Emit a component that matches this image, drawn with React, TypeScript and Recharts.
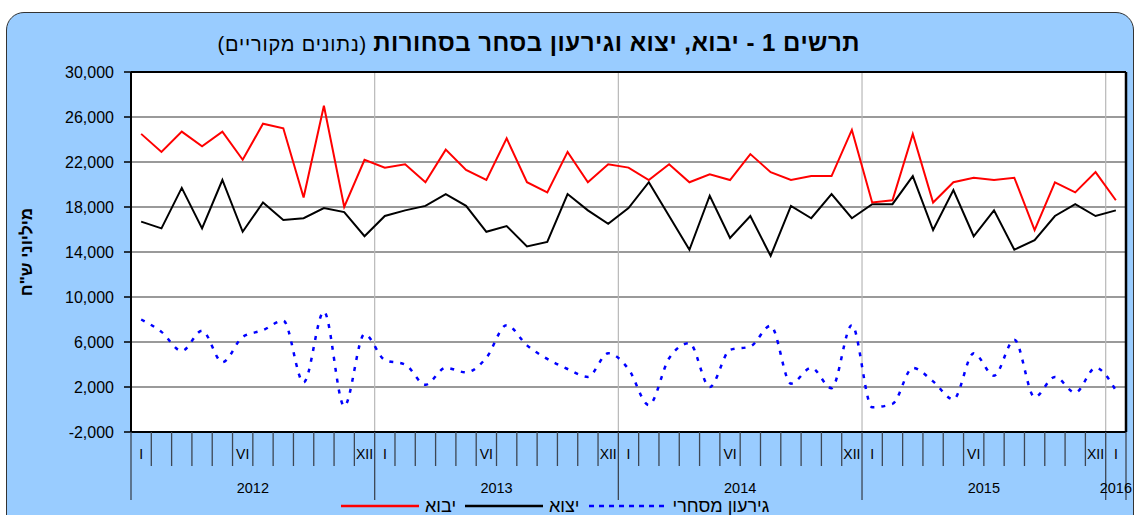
import React from 'react';
import {
    LineChart,
    Line,
    XAxis,
    YAxis,
    CartesianGrid,
    ReferenceLine,
    Legend
} from 'recharts';

// months per year shown on the axis (2016 only has January)
const years = ['2012', '2013', '2014', '2015', '2016'];
const monthsInYear = [12, 12, 12, 12, 1];
const romanMarks: Record<number, string> = { 1: 'I', 6: 'VI', 12: 'XII' };

const yTicks = [-2000, 2000, 6000, 10000, 14000, 18000, 22000, 26000, 30000];

// יבוא - imports (NIS millions)
const imports = [
    24500, 22900, 24700, 23400, 24700, 22200, 25400, 25000, 18850, 27000, 18000, 22200,
    21500, 21800, 20200, 23100, 21300, 20400, 24100, 20200, 19300, 22900, 20200, 21800,
    21500, 20400, 21800, 20200, 20900, 20400, 22700, 21100, 20400, 20750, 20750, 24850,
    18400, 18600, 24500, 18400, 20200, 20600, 20400, 20600, 15950, 20200, 19300, 21100,
    18600
];

// יצוא - exports
const exportsSeries = [
    16700, 16100, 19700, 16100, 20400, 15800, 18400, 16850, 17000, 17900, 17550, 15400,
    17200, 17700, 18100, 19150, 18100, 15800, 16300, 14500, 14900, 19150, 17700, 16500,
    17900, 20200, 17200, 14200, 19000, 15250, 17200, 13650, 18100, 17000, 19150, 17000,
    18250, 18250, 20750, 15950, 19500, 15400, 17700, 14200, 15050, 17200, 18250, 17200,
    17700
];

// גירעון מסחרי - trade deficit
const deficit = [
    8000, 6900, 5200, 7000, 4200, 6450, 7050, 7900, 2400, 8700, 300, 6700,
    4400, 4000, 2200, 3700, 3300, 4600, 7500, 5700, 4500, 3600, 2900, 5000,
    3600, 400, 4550, 5900, 2000, 5300, 5600, 7450, 2300, 3700, 1900, 7500,
    200, 500, 3700, 2500, 900, 5000, 3000, 6200, 1100, 2900, 1500, 3700,
    1700
];

const categories: string[] = [];
years.forEach((yr, yi) => {
    for (let m = 1; m <= monthsInYear[yi]; m++) categories.push(`${yr}-${m}`);
});

const data = categories.map((c, i) => ({
    month: c,
    imports: imports[i],
    exports: exportsSeries[i],
    deficit: deficit[i],
}));

const W = 1134;
const H = 515;
const margin = { top: 72, right: 8, bottom: 13, left: 71 };
const Y_AXIS_W = 60;
const X_AXIS_H = 70;
const plotW = W - margin.left - margin.right - Y_AXIS_W;
const BAND = plotW / categories.length;

const FONT = 'Arial, "Liberation Sans", sans-serif';
const AXIS_DARK = '#3c4654';

function MonthTick(props: any) {
    const { x, y, payload } = props;
    const idx = categories.indexOf(payload.value);
    const [yr, mStr] = String(payload.value).split('-');
    const m = Number(mStr);
    const half = BAND / 2;
    const isLast = idx === categories.length - 1;
    const mark = romanMarks[m];
    return (
        <g>
            <line
                x1={x - half}
                x2={x - half}
                y1={y}
                y2={m === 1 ? y + 68 : y + 34}
                stroke={AXIS_DARK}
                strokeWidth={1.3}
            />
            {isLast && (
                <line x1={x + half} x2={x + half} y1={y} y2={y + 68} stroke={AXIS_DARK} strokeWidth={1.3} />
            )}
            {mark && (
                <text x={x} y={y + 27} textAnchor="middle" fontSize={14} fontFamily={FONT} fill="#000">
                    {mark}
                </text>
            )}
            {(m === 6 || (yr === '2016' && m === 1)) && (
                <text
                    x={m === 6 ? x + half : x}
                    y={y + 61}
                    textAnchor="middle"
                    fontSize={14.5}
                    fontFamily={FONT}
                    fill="#000"
                >
                    {yr}
                </text>
            )}
        </g>
    );
}

const legendItems = [
    { label: 'יבוא', color: '#ff0000', dash: undefined },
    { label: 'יצוא', color: '#000000', dash: undefined },
    { label: 'גירעון מסחרי', color: '#0000ff', dash: '5 5' },
];

function LegendContent() {
    return (
        <div style={{ display: 'flex', alignItems: 'center', fontFamily: FONT, fontSize: 18, color: '#000' }}>
            {legendItems.map((it) => (
                <div key={it.label} style={{ display: 'flex', alignItems: 'center', marginRight: 8 }}>
                    <svg width={80} height={10}>
                        <line
                            x1={1}
                            x2={79}
                            y1={5}
                            y2={5}
                            stroke={it.color}
                            strokeWidth={2.5}
                            strokeDasharray={it.dash}
                        />
                    </svg>
                    <span style={{ marginLeft: 5, direction: 'rtl', lineHeight: '20px' }}>{it.label}</span>
                </div>
            ))}
        </div>
    );
}

export default function App() {
    return (
        <div style={{ position: 'fixed', left: 0, top: 0, width: W, height: H, overflow: 'hidden', background: '#fff' }}>
            <div
                style={{
                    position: 'absolute',
                    left: 6,
                    top: 12,
                    width: 1126,
                    height: 540,
                    background: '#99ccff',
                    border: '1.5px solid #333',
                    borderRadius: 18,
                }}
            />
            <div
                style={{
                    position: 'absolute',
                    right: 274,
                    top: 29,
                    direction: 'rtl',
                    fontFamily: FONT,
                    whiteSpace: 'nowrap',
                    lineHeight: '28px',
                    color: '#000',
                }}
            >
                <span style={{ fontWeight: 'bold', fontSize: 24, letterSpacing: 0.5 }}>
                    תרשים 1 - יבוא, יצוא וגירעון בסחר בסחורות
                </span>
                <span style={{ fontSize: 20, letterSpacing: 0.8 }}> (נתונים מקוריים)</span>
            </div>
            <div
                style={{
                    position: 'absolute',
                    left: 27,
                    top: 252,
                    transform: 'translate(-50%, -50%) rotate(-90deg)',
                    fontFamily: FONT,
                    fontWeight: 'bold',
                    fontSize: 17,
                    whiteSpace: 'nowrap',
                    direction: 'rtl',
                    color: '#000',
                }}
            >
                מיליוני ש"ח
            </div>
            <div style={{ position: 'absolute', left: 0, top: 0 }}>
                <LineChart width={W} height={H} data={data} margin={margin}>
                    <CartesianGrid vertical={false} stroke="#9a9a9a" strokeWidth={2} fill="#ffffff" />
                    <XAxis
                        dataKey="month"
                        scale="band"
                        interval={0}
                        height={X_AXIS_H}
                        tickSize={0}
                        tickMargin={0}
                        tickLine={false}
                        axisLine={{ stroke: '#000', strokeWidth: 2 }}
                        tick={<MonthTick />}
                    />
                    <YAxis
                        width={Y_AXIS_W}
                        domain={[-2000, 30000]}
                        ticks={yTicks}
                        interval={0}
                        tickSize={7}
                        tickMargin={10}
                        axisLine={{ stroke: '#000', strokeWidth: 2 }}
                        tickLine={{ stroke: '#000', strokeWidth: 1.5 }}
                        tick={{ fontSize: 16, fill: '#000', fontFamily: FONT }}
                        tickFormatter={(v: number) => v.toLocaleString('en-US')}
                    />
                    {['2013-1', '2014-1', '2015-1', '2016-1'].map((c) => (
                        <ReferenceLine key={c} x={c} position="start" stroke="#b8b8b8" strokeWidth={1.2} />
                    ))}
                    <ReferenceLine y={30000} stroke="#000" strokeWidth={2} />
                    <ReferenceLine x={categories[categories.length - 1]} position="end" stroke="#000" strokeWidth={2.5} />
                    <Line
                        type="monotone"
                        dataKey="deficit"
                        stroke="#0000ff"
                        strokeWidth={2.5}
                        strokeDasharray="4 7"
                        dot={false}
                        isAnimationActive={false}
                    />
                    <Line
                        type="linear"
                        dataKey="exports"
                        stroke="#000000"
                        strokeWidth={2}
                        dot={false}
                        isAnimationActive={false}
                    />
                    <Line
                        type="linear"
                        dataKey="imports"
                        stroke="#ff0000"
                        strokeWidth={2}
                        dot={false}
                        isAnimationActive={false}
                    />
                    <Legend
                        verticalAlign="middle"
                        align="center"
                        content={<LegendContent />}
                        wrapperStyle={{ left: 340, top: 496, width: 480, height: 20 }}
                    />
                </LineChart>
            </div>
        </div>
    );
}
